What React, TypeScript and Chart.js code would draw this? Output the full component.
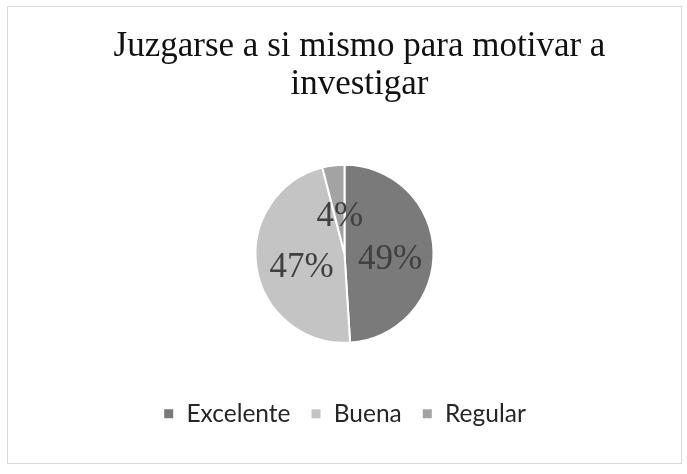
import React, { useEffect, useRef } from "react";
import { Chart, registerables } from "chart.js";

Chart.register(...registerables);

const categories = ["Excelente", "Buena", "Regular"];
const values = [49, 47, 4];
const colors = ["#7a7a7a", "#c4c4c4", "#a3a3a3"];
const titleLines = ["Juzgarse a si mismo para motivar a", "investigar"];

const TITLE_SIZE = 35;
const TITLE_LH = 1.086;
const TITLE_PAD_TOP = 21;

const pctLabels = {
  id: "pctLabels",
  afterDatasetsDraw(chart: any) {
    const ctx = chart.ctx;
    const meta = chart.getDatasetMeta(0);
    const ds = chart.data.datasets[0].data as number[];
    const total = ds.reduce((a, b) => a + b, 0);
    ctx.save();
    ctx.font = "35px 'Liberation Serif'";
    ctx.fillStyle = "#404040";
    ctx.textAlign = "center";
    ctx.textBaseline = "middle";
    meta.data.forEach((arc: any, i: number) => {
      const p = arc.getCenterPoint();
      const pct = Math.round((ds[i] / total) * 100) + "%";
      ctx.fillText(pct, p.x + 1, p.y + 7);
    });
    ctx.restore();
  },
};

const shiftedTitle = {
  id: "shiftedTitle",
  afterDraw(chart: any) {
    const tb = chart.titleBlock;
    if (!tb) return;
    const ctx = chart.ctx;
    const lh = TITLE_SIZE * TITLE_LH;
    ctx.save();
    ctx.font = `${TITLE_SIZE}px 'Liberation Serif'`;
    ctx.fillStyle = "#111111";
    ctx.textAlign = "center";
    ctx.textBaseline = "middle";
    const cx = (tb.left + tb.right) / 2 + 15;
    titleLines.forEach((line, i) => {
      ctx.fillText(line, cx, tb.top + TITLE_PAD_TOP + lh / 2 + i * lh);
    });
    ctx.restore();
  },
};

export default function App() {
  const ref = useRef<HTMLCanvasElement | null>(null);
  useEffect(() => {
    if (!ref.current) return;
    const chart = new Chart(ref.current, {
      type: "pie",
      data: {
        labels: categories,
        datasets: [
          {
            data: values,
            backgroundColor: colors,
            borderColor: "#ffffff",
            borderWidth: 2,
          },
        ],
      },
      options: {
        animation: false,
        responsive: true,
        maintainAspectRatio: false,
        radius: 89,
        layout: { padding: { bottom: 27 } },
        plugins: {
          title: {
            display: true,
            text: titleLines,
            color: "rgba(0,0,0,0)",
            font: { family: "'Liberation Serif'", size: TITLE_SIZE, weight: "normal", lineHeight: TITLE_LH },
            padding: { top: TITLE_PAD_TOP, bottom: 22 },
          },
          legend: {
            display: true,
            position: "bottom",
            labels: {
              boxWidth: 11,
              boxHeight: 11,
              padding: 20,
              color: "#262626",
              font: { family: "Lato", size: 24.5 },
            },
          },
          tooltip: { enabled: false },
        },
      },
      plugins: [pctLabels, shiftedTitle],
    });
    return () => chart.destroy();
  }, []);
  return (
    <div style={{ position: "absolute", left: 0, top: 0, width: 687, height: 474, background: "#fff" }}>
      <div
        style={{
          position: "absolute",
          left: 7,
          top: 6,
          width: 673,
          height: 456,
          border: "1px solid #d9d9d9",
        }}
      >
        <canvas ref={ref} />
      </div>
    </div>
  );
}
